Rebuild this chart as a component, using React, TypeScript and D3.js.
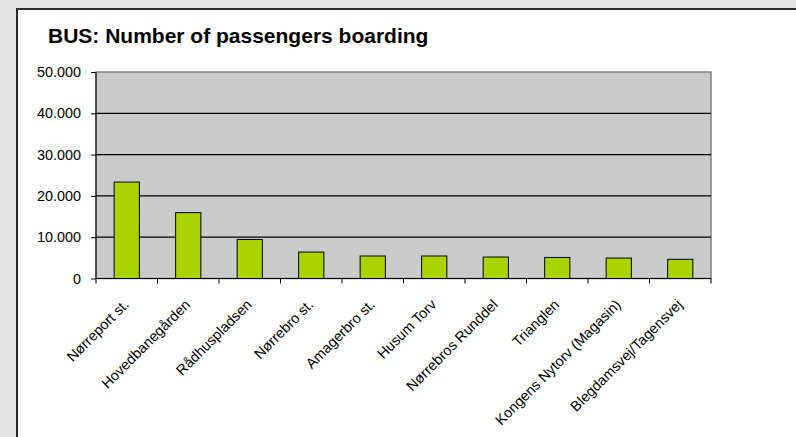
import React, { useEffect, useRef } from 'react';
import * as d3 from 'd3';

const WIDTH = 796;
const HEIGHT = 437;
const FONT = 'Arial, "Liberation Sans", sans-serif';

const stops = [
  'Nørreport st.',
  'Hovedbanegården',
  'Rådhuspladsen',
  'Nørrebro st.',
  'Amagerbro st.',
  'Husum Torv',
  'Nørrebros Runddel',
  'Trianglen',
  'Kongens Nytorv (Magasin)',
  'Blegdamsvej/Tagensvej',
];
const boardings = [23350, 15950, 9450, 6400, 5450, 5450, 5200, 5100, 4950, 4650];
const yTicks = [0, 10000, 20000, 30000, 40000, 50000];

// plot area in page pixels
const plot = { l: 96, t: 72, r: 711, b: 278.5 };

const fmt = (v: number) => (v === 0 ? '0' : d3.format(',')(v).replace(/,/g, '.'));

const App = () => {
  const $xaxis = useRef<SVGGElement>(null);
  const $yaxis = useRef<SVGGElement>(null);

  const xScale = d3.scaleBand().domain(stops).range([plot.l, plot.r]).paddingInner(0.59).paddingOuter(0.295);
  const xBounds = d3.scaleLinear().domain([0, stops.length]).range([plot.l, plot.r]);
  const yScale = d3.scaleLinear().domain([0, 50000]).range([plot.b, plot.t]);

  useEffect(() => {
    // y axis
    const ya = d3.select($yaxis.current);
    ya.selectAll('*').remove();
    ya.call(d3.axisLeft(yScale).tickValues(yTicks).tickSize(5).tickPadding(10).tickFormat((d: any) => fmt(d)) as any);
    ya.select('.domain').attr('stroke', '#000').attr('d', `M0,${plot.t}V${plot.b}`);
    ya.selectAll('text').attr('font-size', 14.4).attr('font-family', FONT).attr('fill', '#000');
    ya.selectAll('line').attr('stroke', '#000');

    // x axis with ticks at category boundaries
    const xa = d3.select($xaxis.current);
    xa.selectAll('*').remove();
    xa.append('line').attr('x1', plot.l).attr('x2', plot.r).attr('y1', 0).attr('y2', 0).attr('stroke', '#000');
    xa.selectAll('line.tk')
      .data(d3.range(stops.length + 1))
      .join('line')
      .attr('class', 'tk')
      .attr('x1', (d) => xBounds(d))
      .attr('x2', (d) => xBounds(d))
      .attr('y1', 0)
      .attr('y2', 5)
      .attr('stroke', '#000');
    xa.selectAll('text')
      .data(stops)
      .join('text')
      .attr('transform', (d) => `translate(${(xScale(d) as number) + xScale.bandwidth() / 2 + 3},${27}) rotate(-45)`)
      .attr('text-anchor', 'end')
      .attr('font-size', 14.4)
      .attr('font-family', FONT)
      .attr('fill', '#000')
      .text((d) => d);
  }, []);

  return (
    <svg width={WIDTH} height={HEIGHT} style={{ position: 'absolute', left: 0, top: 0 }}>
      <rect x={0} y={0} width={WIDTH} height={HEIGHT} fill="#e3e3e3" />
      <rect x={17} y={9} width={WIDTH + 20} height={HEIGHT + 20} fill="#fff" stroke="#2a2a2a" strokeWidth={2} />
      <text x={48} y={43} fontSize={21} fontWeight="bold" fontFamily={FONT} fill="#000">
        BUS: Number of passengers boarding
      </text>

      <rect
        x={plot.l}
        y={plot.t}
        width={plot.r - plot.l}
        height={plot.b - plot.t}
        fill="#cbcbcb"
        stroke="#808080"
        strokeWidth={1.5}
      />
      {yTicks.slice(1, -1).map((t) => (
        <line key={t} x1={plot.l} x2={plot.r} y1={yScale(t)} y2={yScale(t)} stroke="#000" strokeWidth={1.2} />
      ))}

      {stops.map((s, i) => (
        <rect
          key={s}
          x={xScale(s)}
          y={yScale(boardings[i])}
          width={xScale.bandwidth()}
          height={plot.b - yScale(boardings[i])}
          fill="#aad400"
          stroke="#000"
          strokeWidth={1}
        />
      ))}

      <g ref={$yaxis} transform={`translate(${plot.l},0)`} />
      <g ref={$xaxis} transform={`translate(0,${plot.b})`} />
    </svg>
  );
};

export default App;
